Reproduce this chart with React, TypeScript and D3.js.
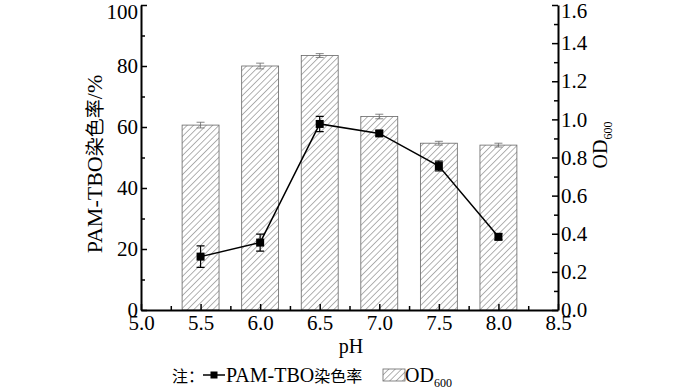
import { useEffect, useRef } from "react";
import * as d3 from "d3";

const phValues = [5.5, 6.0, 6.5, 7.0, 7.5, 8.0];
const odValues = [0.97, 1.28, 1.335, 1.015, 0.875, 0.865];
const odErrors = [0.015, 0.015, 0.01, 0.012, 0.01, 0.01];
const rateValues = [17.5, 22.1, 61.0, 57.9, 47.2, 24.0];
const rateErrors = [3.5, 2.8, 2.5, 0.8, 1.6, 1.0];
const xTicks = [5.0, 5.5, 6.0, 6.5, 7.0, 7.5, 8.0, 8.5];
const leftTicks = [0, 20, 40, 60, 80, 100];
const rightTicks = [0, 0.2, 0.4, 0.6, 0.8, 1.0, 1.2, 1.4, 1.6];

const serif = "'Liberation Serif', 'Times New Roman', serif";
const cjk = "'Noto Sans CJK SC', serif";

const App = () => {
  const ref = useRef<SVGSVGElement | null>(null);

  useEffect(() => {
    const width = 700;
    const height = 389;
    const margin = { top: 5, right: 142, bottom: 79, left: 141 };

    const svg = d3.select(ref.current);
    svg.selectAll("*").remove();

    // hatch pattern for the bars
    const defs = svg.append("defs");
    const pat = defs
      .append("pattern")
      .attr("id", "hatch")
      .attr("patternUnits", "userSpaceOnUse")
      .attr("width", 4.5)
      .attr("height", 4.5)
      .attr("patternTransform", "rotate(45)");
    pat
      .append("line")
      .attr("x1", 0)
      .attr("y1", 0)
      .attr("x2", 0)
      .attr("y2", 4.5)
      .attr("stroke", "#555")
      .attr("stroke-width", 0.9);

    const x = d3
      .scaleLinear()
      .domain([5.0, 8.5])
      .range([margin.left, width - margin.right]);
    const yLeft = d3
      .scaleLinear()
      .domain([0, 100])
      .range([height - margin.bottom, margin.top]);
    const yRight = d3
      .scaleLinear()
      .domain([0, 1.6])
      .range([height - margin.bottom, margin.top]);

    const barW = x(5.31) - x(5.0);

    // bars
    const bars = svg.append("g");
    phValues.forEach((p, i) => {
      bars
        .append("rect")
        .attr("x", x(p) - barW / 2)
        .attr("y", yRight(odValues[i]))
        .attr("width", barW)
        .attr("height", yRight(0) - yRight(odValues[i]))
        .attr("fill", "url(#hatch)")
        .attr("stroke", "#666")
        .attr("stroke-width", 0.8);
      const top = yRight(odValues[i] + odErrors[i]);
      const bot = yRight(odValues[i] - odErrors[i]);
      bars
        .append("path")
        .attr(
          "d",
          `M${x(p)},${top}V${bot}M${x(p) - 4},${top}H${x(p) + 4}M${x(p) - 4},${bot}H${x(p) + 4}`
        )
        .attr("stroke", "#666")
        .attr("stroke-width", 0.8)
        .attr("fill", "none");
    });

    // axes
    const styleAxis = (g: d3.Selection<SVGGElement, unknown, null, undefined>) => {
      g.selectAll("text")
        .attr("font-family", serif)
        .attr("font-size", 21)
        .attr("fill", "#000");
      g.selectAll("line").attr("stroke", "#000").attr("stroke-width", 1.5);
      g.select(".domain").attr("stroke", "#000").attr("stroke-width", 2);
    };
    const minor = (
      g: d3.Selection<SVGGElement, unknown, null, undefined>,
      axis: d3.Axis<d3.NumberValue>
    ) =>
      g
        .call(axis)
        .call((s) => s.selectAll("text").remove())
        .call((s) => s.select(".domain").remove());

    const bottom = svg
      .append("g")
      .attr("transform", `translate(0,${height - margin.bottom})`);
    minor(
      bottom.append("g"),
      d3.axisBottom(x).tickValues(d3.range(5.25, 8.5, 0.5)).tickSizeInner(-4).tickSizeOuter(0)
    );
    bottom
      .append("g")
      .call(
        d3
          .axisBottom(x)
          .tickValues(xTicks)
          .tickFormat(d3.format(".1f"))
          .tickSizeInner(-6)
          .tickSizeOuter(0)
          .tickPadding(5)
      )
      .call(styleAxis);
    bottom.selectAll("line").attr("stroke", "#000").attr("stroke-width", 1.5);

    const left = svg.append("g").attr("transform", `translate(${margin.left},0)`);
    minor(
      left.append("g"),
      d3.axisLeft(yLeft).tickValues(d3.range(10, 100, 20)).tickSizeInner(-4).tickSizeOuter(0)
    );
    left
      .append("g")
      .call(
        d3
          .axisLeft(yLeft)
          .tickValues(leftTicks)
          .tickSizeInner(-6)
          .tickSizeOuter(0)
          .tickPadding(3)
      )
      .call(styleAxis)
      .call((g) =>
        g
          .selectAll<SVGTextElement, number>("text")
          .filter((d) => d === 100)
          .attr("y", 7)
      );
    left.selectAll("line").attr("stroke", "#000").attr("stroke-width", 1.5);

    const right = svg
      .append("g")
      .attr("transform", `translate(${width - margin.right},0)`);
    minor(
      right.append("g"),
      d3.axisRight(yRight).tickValues(d3.range(0.1, 1.6, 0.2)).tickSizeInner(-4).tickSizeOuter(0)
    );
    right
      .append("g")
      .call(
        d3
          .axisRight(yRight)
          .tickValues(rightTicks)
          .tickFormat(d3.format(".1f"))
          .tickSizeInner(-6)
          .tickSizeOuter(0)
          .tickPadding(3)
      )
      .call(styleAxis)
      .call((g) =>
        g
          .selectAll<SVGTextElement, number>("text")
          .filter((d) => d === 1.6)
          .attr("y", 6)
      );
    right.selectAll("line").attr("stroke", "#000").attr("stroke-width", 1.5);

    // line series with error bars
    const pts = phValues.map((p, i) => [p, rateValues[i]] as [number, number]);
    const line = d3
      .line<[number, number]>()
      .x((d) => x(d[0]))
      .y((d) => yLeft(d[1]));
    svg
      .append("path")
      .datum(pts)
      .attr("fill", "none")
      .attr("stroke", "#000")
      .attr("stroke-width", 1.5)
      .attr("d", line);
    phValues.forEach((p, i) => {
      const top = yLeft(rateValues[i] + rateErrors[i]);
      const bot = yLeft(rateValues[i] - rateErrors[i]);
      svg
        .append("path")
        .attr(
          "d",
          `M${x(p)},${top}V${bot}M${x(p) - 4},${top}H${x(p) + 4}M${x(p) - 4},${bot}H${x(p) + 4}`
        )
        .attr("stroke", "#000")
        .attr("stroke-width", 1.2)
        .attr("fill", "none");
      svg
        .append("rect")
        .attr("x", x(p) - 4)
        .attr("y", yLeft(rateValues[i]) - 4)
        .attr("width", 8)
        .attr("height", 8)
        .attr("fill", "#000");
    });

    // axis titles
    const yt = svg
      .append("text")
      .attr("transform", `translate(102,164) rotate(-90)`)
      .attr("text-anchor", "middle")
      .attr("font-family", serif)
      .attr("font-size", 22);
    yt.append("tspan").text("PAM-TBO");
    yt.append("tspan").attr("font-family", cjk).attr("font-size", 19).text("染色率");
    yt.append("tspan").text("/%");

    const od = svg
      .append("text")
      .attr("transform", `translate(607,145) rotate(-90)`)
      .attr("text-anchor", "middle")
      .attr("font-family", serif)
      .attr("font-size", 20);
    od.append("tspan").text("OD");
    od.append("tspan").attr("font-size", 12).attr("dy", 5).text("600");

    svg
      .append("text")
      .attr("x", 351)
      .attr("y", 353)
      .attr("text-anchor", "middle")
      .attr("font-family", serif)
      .attr("font-size", 20)
      .text("pH");

    // legend
    const lg = svg.append("g").attr("font-family", serif).attr("font-size", 20);
    lg.append("text")
      .attr("x", 172)
      .attr("y", 382)
      .attr("font-family", cjk)
      .attr("font-size", 16)
      .text("注：");
    lg.append("line")
      .attr("x1", 203)
      .attr("x2", 225)
      .attr("y1", 375)
      .attr("y2", 375)
      .attr("stroke", "#000")
      .attr("stroke-width", 1.5);
    lg.append("rect")
      .attr("x", 210.5)
      .attr("y", 371.5)
      .attr("width", 7)
      .attr("height", 7)
      .attr("fill", "#000");
    const lp = lg.append("text").attr("x", 226).attr("y", 382);
    lp.append("tspan").text("PAM-TBO");
    lp.append("tspan").attr("font-family", cjk).attr("font-size", 16).text("染色率");
    lg.append("rect")
      .attr("x", 383)
      .attr("y", 369)
      .attr("width", 22)
      .attr("height", 12)
      .attr("fill", "url(#hatch)")
      .attr("stroke", "#666")
      .attr("stroke-width", 0.8);
    const lt = lg.append("text").attr("x", 405).attr("y", 382);
    lt.append("tspan").text("OD");
    lt.append("tspan").attr("font-size", 12).attr("dy", 5).text("600");
  }, []);

  return (
    <svg
      ref={ref}
      width={700}
      height={389}
      style={{ position: "absolute", left: 0, top: 0, background: "#fff" }}
    ></svg>
  );
};

export default App;
